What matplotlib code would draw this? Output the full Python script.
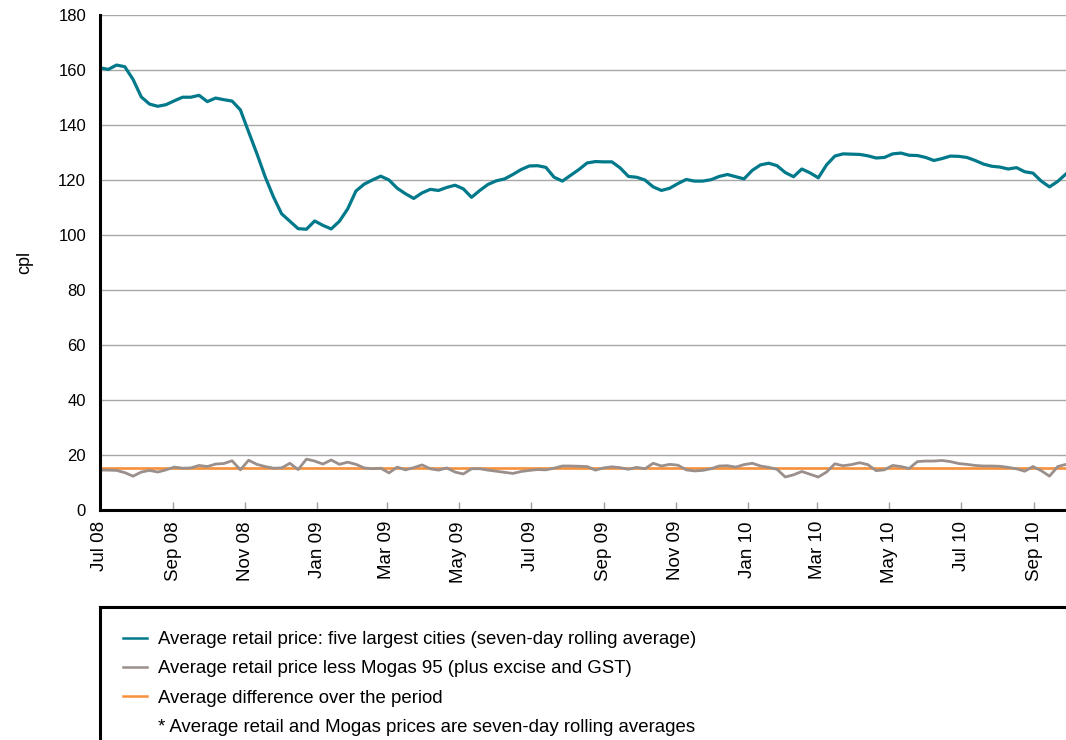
import numpy as np
import matplotlib
matplotlib.use('Agg')
import matplotlib.pyplot as plt
import matplotlib.dates as mdates
from matplotlib.lines import Line2D

plt.rcParams['font.family'] = ['Liberation Sans', 'DejaVu Sans']
plt.rcParams['font.size'] = 12

# weekly readings, starting 1 July 2008 (cents per litre)
start = np.datetime64('2008-07-01')
retail = [160.8, 160.2, 161.8, 161.2, 156.6, 150.2, 147.6, 146.8, 147.4, 148.8,
          150.1, 150.1, 150.8, 148.5, 149.8, 149.2, 148.7, 145.5, 137.5, 129.6,
          121.2, 113.9, 107.7, 105.0, 102.3, 102.1, 105.1, 103.5, 102.2, 105.0,
          109.5, 116.0, 118.5, 120.0, 121.4, 120.0, 117.0, 115.0, 113.3, 115.3,
          116.6, 116.2, 117.3, 118.1, 116.8, 113.7, 116.2, 118.4, 119.7, 120.4,
          122.0, 123.8, 125.1, 125.2, 124.6, 121.0, 119.6, 121.7, 123.8, 126.2,
          126.7, 126.6, 126.6, 124.4, 121.3, 121.0, 120.0, 117.5, 116.2, 117.0,
          118.7, 120.2, 119.6, 119.6, 120.1, 121.3, 122.0, 121.2, 120.4, 123.5,
          125.5, 126.1, 125.2, 122.7, 121.2, 124.0, 122.6, 120.8, 125.5, 128.7,
          129.5, 129.4, 129.3, 128.8, 128.0, 128.2, 129.5, 129.8, 129.0, 128.9,
          128.2, 127.1, 127.8, 128.7, 128.6, 128.2, 127.1, 125.8, 125.0, 124.7,
          124.0, 124.5, 123.0, 122.5, 119.6, 117.5, 119.5, 122.2]
margin = [14.5, 14.5, 14.4, 13.6, 12.3, 13.8, 14.4, 13.8, 14.6, 15.6,
          15.2, 15.3, 16.2, 15.8, 16.7, 16.9, 17.9, 14.6, 18.1, 16.6,
          15.8, 15.2, 15.3, 17.0, 14.7, 18.5, 17.8, 16.7, 18.2, 16.6,
          17.4, 16.6, 15.3, 15.0, 15.2, 13.5, 15.6, 14.6, 15.4, 16.4,
          15.0, 14.5, 15.3, 13.8, 13.1, 15.0, 15.0, 14.5, 14.1, 13.7,
          13.3, 14.0, 14.4, 14.7, 14.6, 15.2, 16.0, 16.0, 15.9, 15.8,
          14.5, 15.3, 15.7, 15.4, 14.8, 15.5, 15.0, 17.0, 16.0, 16.6,
          16.3, 14.6, 14.2, 14.4, 15.0, 16.0, 16.1, 15.6, 16.5, 17.0,
          16.0, 15.5, 14.8, 12.0, 12.8, 14.0, 13.0, 12.0, 13.8, 16.8,
          16.1, 16.5, 17.2, 16.5, 14.3, 14.6, 16.2, 15.8, 15.1, 17.6,
          17.8, 17.8, 18.0, 17.6, 16.9, 16.6, 16.2, 16.0, 16.0, 15.9,
          15.5, 15.0, 14.1, 15.8, 14.3, 12.3, 15.8, 16.6]
avg_margin = 15.4

labels = ['Average retail price: five largest cities (seven-day rolling average)',
          'Average retail price less Mogas 95 (plus excise and GST)',
          'Average difference over the period',
          '* Average retail and Mogas prices are seven-day rolling averages']

dates = start + 7 * np.arange(len(retail))

W, H = 1066, 740
fig = plt.figure(figsize=(W / 100, H / 100), dpi=100)
ax = fig.add_axes([100 / W, 230 / H, 1 - 100 / W, 495 / H])

l1, = ax.plot(dates, retail, color='#00798A', lw=2.3, zorder=4)
l2, = ax.plot(dates, margin, color='#9A8F8A', lw=2.0, zorder=3)
l3 = ax.axhline(avg_margin, color='#F7903A', lw=1.9, zorder=2)

ax.set_ylim(0, 180)
ax.set_yticks(np.arange(0, 181, 20))
ax.set_xlim(dates[0], dates[-1])
ax.xaxis.set_major_locator(mdates.MonthLocator(bymonth=[1, 3, 5, 7, 9, 11]))
ax.xaxis.set_major_formatter(mdates.DateFormatter('%b %y'))
ax.grid(axis='y', color='#A8A8A8', lw=1.0)
ax.set_axisbelow(True)
for s in ['top', 'right']:
    ax.spines[s].set_visible(False)
for s in ['left', 'bottom']:
    ax.spines[s].set_linewidth(2.2)
    ax.spines[s].set_color('black')
    ax.spines[s].set_zorder(5)
ax.tick_params(axis='y', length=0, pad=10, labelsize=12)
ax.tick_params(axis='x', direction='in', length=6, width=1, color='#A0A0A0',
               pad=8, labelsize=13.5, labelrotation=90)
ax.set_ylabel('cpl', fontsize=13, labelpad=18)

# legend box
lax = fig.add_axes([100 / W, -0.1, 1.0, 133 / H + 0.1])
lax.set_xticks([])
lax.set_yticks([])
for s in lax.spines.values():
    s.set_linewidth(2.2)
    s.set_color('black')
blank = Line2D([], [], color='none')
handles = [Line2D([], [], color='#00798A', lw=1.8),
           Line2D([], [], color='#9A8F8A', lw=1.8),
           Line2D([], [], color='#F7903A', lw=1.8),
           blank]
fig.legend(handles, labels, loc='upper left', bbox_to_anchor=(123 / W, 1 - 631 / H),
           frameon=False, fontsize=13.4, borderpad=0, borderaxespad=0,
           handlelength=1.3, handletextpad=0.6, labelspacing=0.66)

fig.savefig('out.png', dpi=100)
